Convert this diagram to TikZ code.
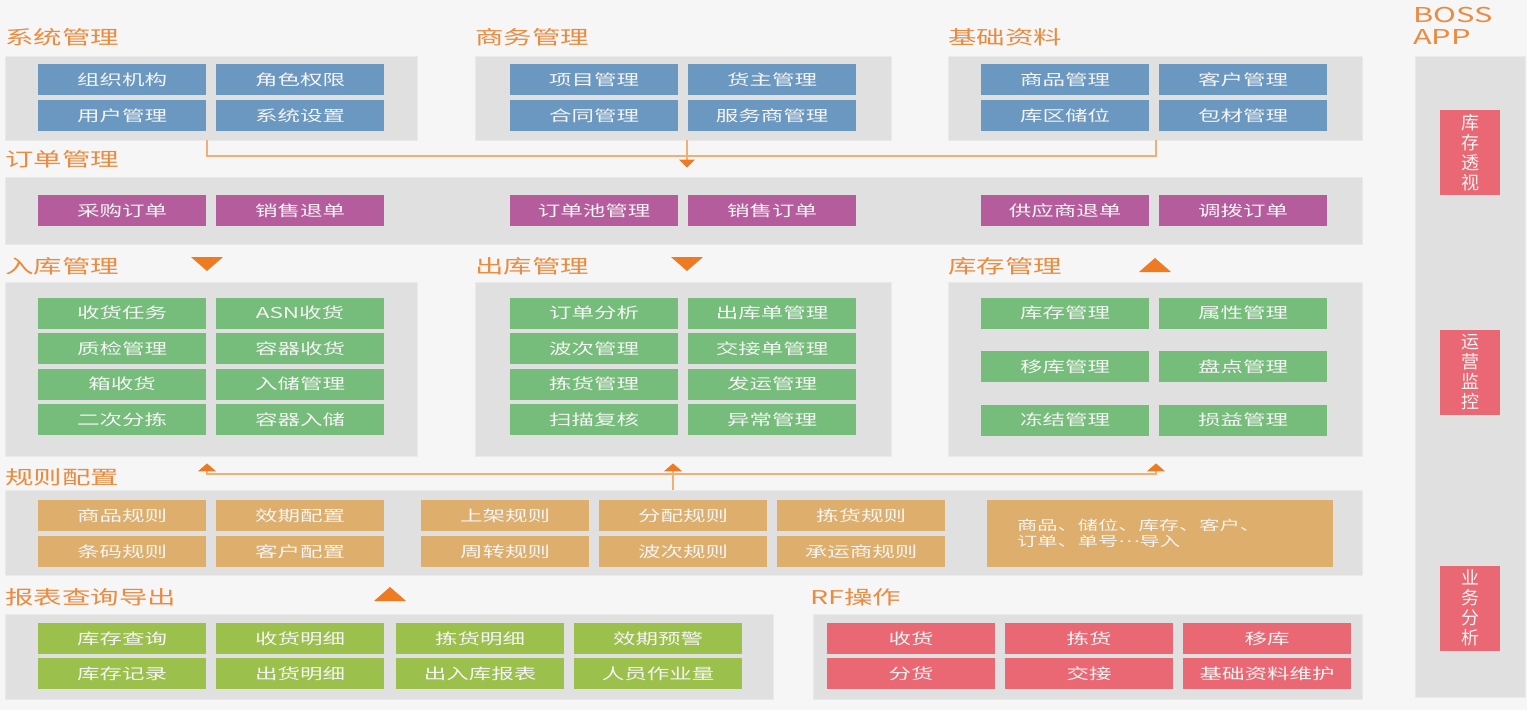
\documentclass[tikz,border=0pt]{standalone}
\usepackage{fontspec}
\setmainfont[FakeStretch=1.5]{Noto Sans CJK SC}
\newfontfamily\wmsupright{Noto Sans CJK SC}
\usepackage{tikz}
\usetikzlibrary{arrows.meta}
\definecolor{WmsPaper}{HTML}{F6F6F6}
\definecolor{WmsPanel}{HTML}{E0E0E0}
\definecolor{WmsPanelEdge}{HTML}{EAEAEA}
\definecolor{WmsBlue}{HTML}{6A98C0}
\definecolor{WmsPurple}{HTML}{B55D9C}
\definecolor{WmsGreen}{HTML}{76BD7B}
\definecolor{WmsTan}{HTML}{DDAE6C}
\definecolor{WmsLime}{HTML}{9CC04C}
\definecolor{WmsRed}{HTML}{E96873}
\definecolor{WmsTitle}{HTML}{EB8B40}
\definecolor{WmsTri}{HTML}{EE7B22}
\definecolor{WmsLine}{HTML}{F3AE73}
\definecolor{WmsBoxText}{HTML}{F4F4F4}
\newcommand\wmsboxfont{\fontsize{15pt}{16pt}\selectfont}
\newcommand\wmstitlefont{\fontsize{19pt}{22pt}\selectfont}

\begin{document}
\begin{tikzpicture}[
  x=1pt,y=-1pt,
  panel/.style={draw=WmsPanelEdge,fill=WmsPanel,line width=0.8pt,inner sep=0pt},
  title/.style={anchor=west,inner sep=0pt,text=WmsTitle,font=\wmstitlefont,align=left},
  box/.style={minimum width=168pt,minimum height=31pt,inner sep=0pt,text=WmsBoxText,font=\wmsboxfont},
  bluebox/.style={box,fill=WmsBlue},
  orderbox/.style={box,fill=WmsPurple},
  greenbox/.style={box,fill=WmsGreen},
  rulebox/.style={box,fill=WmsTan},
  reportbox/.style={box,fill=WmsLime},
  rfbox/.style={box,fill=WmsRed},
  appbox/.style={fill=WmsRed,minimum width=60pt,minimum height=85pt,inner sep=0pt,text=WmsBoxText,
    font=\wmsupright\fontsize{18pt}{20pt}\selectfont,align=center},
  bigtri/.style={fill=WmsTri},
  link/.style={draw=WmsLine,line width=1.3pt},
  tipdown/.style={-{Triangle[width=16pt,length=8pt,color=WmsTri]},shorten >=9pt},
  tipup/.style={-{Triangle[width=18pt,length=8pt,color=WmsTri]},shorten >=7pt}
]
  \fill[WmsPaper] (0,0) rectangle (1527,710);
  \useasboundingbox (0,0) rectangle (1527,710);

  % section titles
  \node[title] (tSys) at (5,37) {系统管理};
  \node[title] (tBiz) at (475,37) {商务管理};
  \node[title] (tBase) at (948,37) {基础资料};
  \node[title] (tOrd) at (5,159) {订单管理};
  \node[title] (tIn) at (5,266) {入库管理};
  \node[title] (tOut) at (475,266) {出库管理};
  \node[title] (tStk) at (948,266) {库存管理};
  \node[title] (tRule) at (5,477) {规则配置};
  \node[title] (tRpt) at (5,597) {报表查询导出};
  \node[title] (tRf) at (810,597) {RF操作};
  \node[title,font=\fontsize{20.5pt}{22pt}\selectfont] (tBoss) at (1413,26) {BOSS\\APP};

  % panels
  \node[panel,minimum width=412pt,minimum height=84pt] (sys) at (211,98) {};
  \node[panel,minimum width=416pt,minimum height=84pt] (biz) at (683,98) {};
  \node[panel,minimum width=414pt,minimum height=84pt] (base) at (1155,98) {};
  \node[panel,minimum width=1357pt,minimum height=67pt] (ord) at (683.5,210.5) {};
  \node[panel,minimum width=412pt,minimum height=174pt] (inb) at (211,369) {};
  \node[panel,minimum width=416pt,minimum height=174pt] (outb) at (683,369) {};
  \node[panel,minimum width=414pt,minimum height=174pt] (stk) at (1155,369) {};
  \node[panel,minimum width=1357pt,minimum height=85pt] (rule) at (683.5,532.5) {};
  \node[panel,minimum width=768pt,minimum height=85pt] (rpt) at (389,656.5) {};
  \node[panel,minimum width=549pt,minimum height=85pt] (rf) at (1087.5,656.5) {};
  \node[panel,minimum width=110pt,minimum height=641pt] (boss) at (1470,376.5) {};

  % system / business / base data
  \node[bluebox] (sys1) at (122,79.5) {组织机构};
  \node[bluebox] (sys2) at (300,79.5) {角色权限};
  \node[bluebox] (sys3) at (122,115.5) {用户管理};
  \node[bluebox] (sys4) at (300,115.5) {系统设置};
  \node[bluebox] (biz1) at (594,79.5) {项目管理};
  \node[bluebox] (biz2) at (772,79.5) {货主管理};
  \node[bluebox] (biz3) at (594,115.5) {合同管理};
  \node[bluebox] (biz4) at (772,115.5) {服务商管理};
  \node[bluebox] (base1) at (1065,79.5) {商品管理};
  \node[bluebox] (base2) at (1243,79.5) {客户管理};
  \node[bluebox] (base3) at (1065,115.5) {库区储位};
  \node[bluebox] (base4) at (1243,115.5) {包材管理};

  % orders
  \node[orderbox] (ord1) at (122,210.5) {采购订单};
  \node[orderbox] (ord2) at (300,210.5) {销售退单};
  \node[orderbox] (ord3) at (594,210.5) {订单池管理};
  \node[orderbox] (ord4) at (772,210.5) {销售订单};
  \node[orderbox] (ord5) at (1065,210.5) {供应商退单};
  \node[orderbox] (ord6) at (1243,210.5) {调拨订单};

  % inbound
  \node[greenbox] (in1) at (122,313) {收货任务};
  \node[greenbox] (in2) at (300,313) {ASN收货};
  \node[greenbox] (in3) at (122,348.5) {质检管理};
  \node[greenbox] (in4) at (300,348.5) {容器收货};
  \node[greenbox] (in5) at (122,384) {箱收货};
  \node[greenbox] (in6) at (300,384) {入储管理};
  \node[greenbox] (in7) at (122,419.5) {二次分拣};
  \node[greenbox] (in8) at (300,419.5) {容器入储};

  % outbound
  \node[greenbox] (out1) at (594,313) {订单分析};
  \node[greenbox] (out2) at (772,313) {出库单管理};
  \node[greenbox] (out3) at (594,348.5) {波次管理};
  \node[greenbox] (out4) at (772,348.5) {交接单管理};
  \node[greenbox] (out5) at (594,384) {拣货管理};
  \node[greenbox] (out6) at (772,384) {发运管理};
  \node[greenbox] (out7) at (594,419.5) {扫描复核};
  \node[greenbox] (out8) at (772,419.5) {异常管理};

  % stock
  \node[greenbox] (stk1) at (1065,313) {库存管理};
  \node[greenbox] (stk2) at (1243,313) {属性管理};
  \node[greenbox] (stk3) at (1065,366.5) {移库管理};
  \node[greenbox] (stk4) at (1243,366.5) {盘点管理};
  \node[greenbox] (stk5) at (1065,420) {冻结管理};
  \node[greenbox] (stk6) at (1243,420) {损益管理};

  % rules
  \node[rulebox] (rule1) at (122,515.5) {商品规则};
  \node[rulebox] (rule2) at (300,515.5) {效期配置};
  \node[rulebox] (rule3) at (122,551.5) {条码规则};
  \node[rulebox] (rule4) at (300,551.5) {客户配置};
  \node[rulebox] (rule5) at (505,515.5) {上架规则};
  \node[rulebox] (rule6) at (683,515.5) {分配规则};
  \node[rulebox] (rule7) at (861,515.5) {拣货规则};
  \node[rulebox] (rule8) at (505,551.5) {周转规则};
  \node[rulebox] (rule9) at (683,551.5) {波次规则};
  \node[rulebox] (rule10) at (861,551.5) {承运商规则};
  \node[rulebox,minimum width=346pt,minimum height=67pt,text width=286pt,inner xsep=30pt,align=left,
    font=\fontsize{13.5pt}{16.5pt}\selectfont] (imp) at (1160,533.5) {商品、储位、库存、客户、\\订单、单号\raisebox{0.3em}{…}导入};

  % reports
  \node[reportbox] (rpt1) at (122,638.5) {库存查询};
  \node[reportbox] (rpt2) at (300,638.5) {收货明细};
  \node[reportbox] (rpt3) at (480,638.5) {拣货明细};
  \node[reportbox] (rpt4) at (658,638.5) {效期预警};
  \node[reportbox] (rpt5) at (122,673.5) {库存记录};
  \node[reportbox] (rpt6) at (300,673.5) {出货明细};
  \node[reportbox] (rpt7) at (480,673.5) {出入库报表};
  \node[reportbox] (rpt8) at (658,673.5) {人员作业量};

  % RF
  \node[rfbox] (rf1) at (911,638.5) {收货};
  \node[rfbox] (rf2) at (1089,638.5) {拣货};
  \node[rfbox] (rf3) at (1267,638.5) {移库};
  \node[rfbox] (rf4) at (911,673.5) {分货};
  \node[rfbox] (rf5) at (1089,673.5) {交接};
  \node[rfbox] (rf6) at (1267,673.5) {基础资料维护};

  % boss app
  \node[appbox] (app1) at (1470,152.5) {库\\存\\透\\视};
  \node[appbox] (app2) at (1470,372.5) {运\\营\\监\\控};
  \node[appbox] (app3) at (1470,608) {业\\务\\分\\析};

  % connectors
  \coordinate (jTop) at (687,156);
  \coordinate (jBot) at (673,474);
  \coordinate (gL) at (207,0);
  \coordinate (gR) at (1156,0);
  \draw[link] (sys.south -| gL) |- (jTop) -| (base.south -| gR);
  \draw[link,tipdown] (biz.south -| jTop) -- (ord.north -| jTop);
  \draw[link] (rule.north -| jBot) -- (jBot);
  \draw[link,tipup] (jBot) -| (inb.south -| gL);
  \draw[link,tipup] (jBot) -- (outb.south -| jBot);
  \draw[link,tipup] (jBot) -| (stk.south -| gR);

  % flow marks
  \fill[bigtri] (191,257) -- (223,257) -- (207,271) -- cycle;
  \fill[bigtri] (671,257) -- (703,257) -- (687,271) -- cycle;
  \fill[bigtri] (1139,272) -- (1171,272) -- (1155,258) -- cycle;
  \fill[bigtri] (374,601) -- (406,601) -- (390,587) -- cycle;
\end{tikzpicture}
\end{document}
